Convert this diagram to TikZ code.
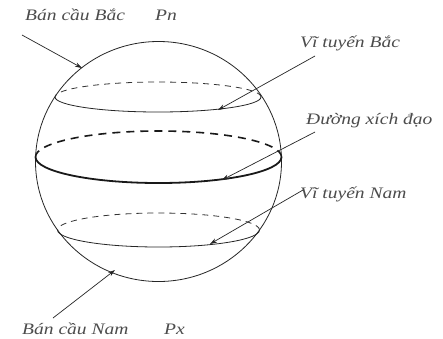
\documentclass[tikz,border=0pt]{standalone}
\usepackage{fontspec}
\setmainfont{Liberation Serif}
\newfontfamily\lblfont[FakeStretch=1.22]{Liberation Serif}
\usetikzlibrary{arrows.meta}
\begin{document}
\begin{tikzpicture}[x=1pt,y=-1pt,
  lbl/.style={font=\lblfont\itshape\fontsize{16}{16}\selectfont, inner sep=0pt, anchor=base west, text=black!70},
  ptr/.style={-{Stealth[length=7pt,width=4.5pt]}, line width=0.7pt, draw=black!85},
  thinline/.style={line width=0.8pt, draw=black!85},
  thickline/.style={line width=1.8pt, draw=black!90},
  backthin/.style={line width=0.8pt, draw=black!80, dash pattern=on 6pt off 5pt},
  backthick/.style={line width=1.6pt, draw=black!90, dash pattern=on 8pt off 6pt}]
\useasboundingbox[fill=white] (0,0) rectangle (443,338);
% sphere
\draw[thinline] (158.5,161.5) ellipse [x radius=123pt, y radius=120pt];
% north parallel
\draw[thinline] (55,97) arc[start angle=180,end angle=360,x radius=103pt,y radius=15pt];
\draw[backthin] (261,97) arc[start angle=0,end angle=180,x radius=103pt,y radius=15pt];
% equator
\draw[thickline] (35.5,157) arc[start angle=180,end angle=360,x radius=123pt,y radius=26pt];
\draw[backthick] (281.5,157) arc[start angle=0,end angle=180,x radius=123pt,y radius=26pt];
% south parallel
\draw[thinline] (57.5,230) arc[start angle=180,end angle=360,x radius=101pt,y radius=17pt];
\draw[backthin] (259.5,230) arc[start angle=0,end angle=180,x radius=101pt,y radius=17pt];
% labels
\node[lbl] (bcb) at (25,20) {Bán cầu Bắc};
\node[lbl] (pn) at (155,20) {Pn};
\node[lbl] (vtb) at (300,47) {Vĩ tuyến Bắc};
\node[lbl] (xd) at (306,124) {Đường xích đạo};
\node[lbl] (vtn) at (300,198) {Vĩ tuyến Nam};
\node[lbl] (bcn) at (22,334) {Bán cầu Nam};
\node[lbl] (px) at (164,334) {Px};
% arrow ends
\coordinate (a1s) at (22,35);   \coordinate (a1e) at (82,68);
\coordinate (a2s) at (315,56);  \coordinate (a2e) at (218,110);
\coordinate (a3s) at (315,132); \coordinate (a3e) at (222,180);
\coordinate (a4s) at (303,190); \coordinate (a4e) at (210,244);
\coordinate (a5s) at (53,318);  \coordinate (a5e) at (115,270);
\draw[ptr] (a1s) -- (a1e);
\draw[ptr] (a2s) -- (a2e);
\draw[ptr] (a3s) -- (a3e);
\draw[ptr] (a4s) -- (a4e);
\draw[ptr] (a5s) -- (a5e);
\end{tikzpicture}
\end{document}
